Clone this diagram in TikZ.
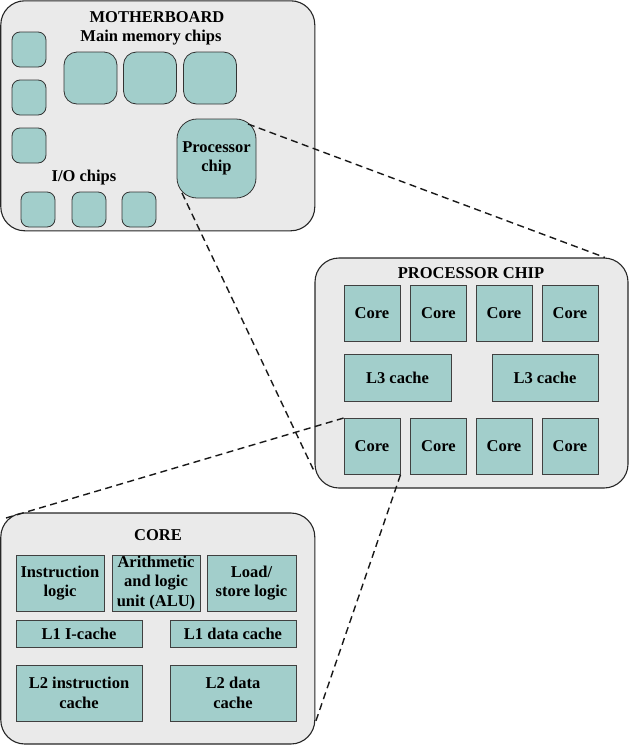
\documentclass[tikz,border=0pt]{standalone}
\usepackage{fontspec}
\setmainfont{Liberation Serif}
\definecolor{chipfill}{RGB}{162,206,203}
\definecolor{panelfill}{RGB}{234,234,234}
\begin{document}
\begin{tikzpicture}[x=1pt,y=-1pt,
  every node/.style={font=\fontsize{16.5}{19.5}\selectfont\bfseries, inner sep=0pt, align=center},
  panel/.style={draw=black!85, line width=1.1pt, fill=panelfill, rounded corners=24pt},
  rchip/.style={draw=black!80, line width=0.8pt, fill=chipfill, rounded corners=#1},
  rchip/.default=8pt,
  sq/.style={draw=black!75, line width=0.9pt, fill=chipfill},
  zoomline/.style={draw=black!90, line width=1.4pt, dash pattern=on 7pt off 4.5pt}]
\useasboundingbox (0,0) rectangle (629,745);
% panels
\node[panel, minimum width=314pt, minimum height=230pt] (mb) at (157.8,115.8) {};
\node[panel, minimum width=313pt, minimum height=230pt] (pcb) at (471.5,373) {};
\node[panel, minimum width=314pt, minimum height=231pt] (cb) at (157.8,628.5) {};
% motherboard
\node (mbt) at (157,17) {MOTHERBOARD};
\node (mmt) at (151,38) {Main memory chips};
\node[rchip, minimum width=34pt, minimum height=35pt] (s1) at (29,49.5) {};
\node[rchip, minimum width=34pt, minimum height=35pt] (s2) at (29,97.5) {};
\node[rchip, minimum width=34pt, minimum height=35pt] (s3) at (29,145.5) {};
\node[rchip=13pt, minimum width=53pt, minimum height=52pt] (m1) at (90.5,78) {};
\node[rchip=13pt, minimum width=53pt, minimum height=52pt] (m2) at (150,78) {};
\node[rchip=13pt, minimum width=53pt, minimum height=52pt] (m3) at (210,78) {};
\node[rchip=20pt, minimum width=79pt, minimum height=79pt] (pc) at (216.5,158.5) {Processor\\chip};
\node (iot) at (84,178) {I/O chips};
\node[rchip, minimum width=34pt, minimum height=35pt] (io1) at (38,209.5) {};
\node[rchip, minimum width=34pt, minimum height=35pt] (io2) at (89,209.5) {};
\node[rchip, minimum width=34pt, minimum height=35pt] (io3) at (139,209.5) {};
% processor chip
\node (pct) at (471,273) {PROCESSOR CHIP};
\node[sq, minimum width=56pt, minimum height=56pt] (t1) at (372,313) {Core};
\node[sq, minimum width=56pt, minimum height=56pt] (t2) at (438.5,313) {Core};
\node[sq, minimum width=56pt, minimum height=56pt] (t3) at (504,313) {Core};
\node[sq, minimum width=56pt, minimum height=56pt] (t4) at (570,313) {Core};
\node[sq, minimum width=107pt, minimum height=47pt] (l3a) at (397.5,377.5) {L3 cache};
\node[sq, minimum width=106pt, minimum height=47pt] (l3b) at (545,377.5) {L3 cache};
\node[sq, minimum width=56pt, minimum height=56pt] (b1) at (372,446.5) {Core};
\node[sq, minimum width=56pt, minimum height=56pt] (b2) at (438.5,446.5) {Core};
\node[sq, minimum width=56pt, minimum height=56pt] (b3) at (504,446.5) {Core};
\node[sq, minimum width=56pt, minimum height=56pt] (b4) at (570,446.5) {Core};
% core
\node (ct) at (158,535) {CORE};
\node[sq, minimum width=88pt, minimum height=56pt] (il) at (60,583) {Instruction\\logic};
\node[sq, minimum width=88pt, minimum height=56pt] (alu) at (156,583) {Arithmetic\\and logic\\unit (ALU)};
\node[sq, minimum width=89pt, minimum height=56pt] (ls) at (251.5,583) {Load/\\store logic};
\node[sq, minimum width=126pt, minimum height=27pt] (l1i) at (79,633.5) {L1 I-cache};
\node[sq, minimum width=126pt, minimum height=27pt] (l1d) at (233,633.5) {L1 data cache};
\node[sq, minimum width=126pt, minimum height=56pt] (l2i) at (79,693) {L2 instruction\\cache};
\node[sq, minimum width=126pt, minimum height=56pt] (l2d) at (233,693) {L2 data\\cache};
% zoom lines
\coordinate (pcA) at (248,124);
\coordinate (pcB) at (182,193);
\coordinate (pcbA) at (605,257.5);
\coordinate (pcbB) at (315,473);
\coordinate (cbA) at (6,518);
\coordinate (cbB) at (314.5,725);
\draw[zoomline] (pcA) -- (pcbA);
\draw[zoomline] (pcB) -- (pcbB);
\draw[zoomline] (b1.north west) -- (cbA);
\draw[zoomline] (b1.south east) -- (cbB);
\end{tikzpicture}
\end{document}
